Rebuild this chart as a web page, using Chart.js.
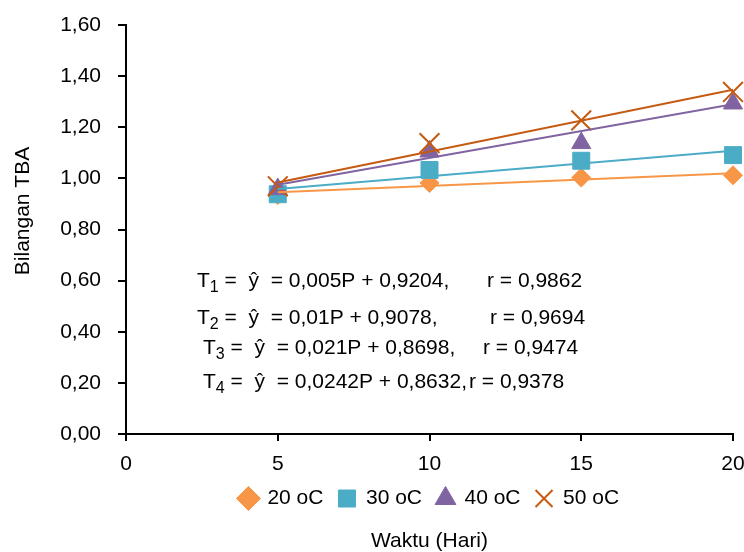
<!DOCTYPE html>
<html>
<head>
<meta charset="utf-8">
<script src="https://cdn.jsdelivr.net/npm/chart.js@4.4.1/dist/chart.umd.min.js"></script>
<style>
    html, body { margin: 0; padding: 0; background: #fff; }
    canvas { display: block; }
</style>
</head>
<body>
<canvas id="tbaChart" width="744" height="552"></canvas>
<script>
// data
const days = [5, 10, 15, 20];
const tba20 = [0.935, 0.982, 1.003, 1.012];
const tba30 = [0.938, 1.033, 1.069, 1.091];
const tba40 = [0.958, 1.105, 1.138, 1.293];
const tba50 = [0.969, 1.138, 1.227, 1.338];

// trend lines (end points at day 5 and day 20)
const trendDays = [5, 20];
const trend20 = [0.946, 1.020];
const trend30 = [0.958, 1.108];
const trend40 = [0.975, 1.290];
const trend50 = [0.984, 1.347];

const seriesLabels = ['20 oC', '30 oC', '40 oC', '50 oC'];
const eqSub = ['1', '2', '3', '4'];
const eqBody = [' =  ŷ  = 0,005P + 0,9204,', ' =  ŷ  = 0,01P + 0,9078,', ' =  ŷ  = 0,021P + 0,8698,', ' =  ŷ  = 0,0242P + 0,8632,'];
const eqR = ['r = 0,9862', 'r = 0,9694', 'r = 0,9474', 'r = 0,9378'];

const FAMILY = "'Liberation Sans', Arial, sans-serif";
Chart.defaults.font.family = FAMILY;
Chart.defaults.font.size = 21;
Chart.defaults.color = '#000';

function toPoints(xs, ys) {
    return xs.map((x, i) => ({ x: x, y: ys[i] }));
}

// equations + y axis title
const textPlugin = {
    id: 'textPlugin',
    afterDraw(chart) {
        const ctx = chart.ctx;
        ctx.save();
        ctx.fillStyle = '#000';

        ctx.font = `21px ${FAMILY}`;
        ctx.translate(23, 211);
        ctx.rotate(-Math.PI / 2);
        ctx.textAlign = 'center';
        ctx.textBaseline = 'middle';
        ctx.fillText('Bilangan TBA', 0, 0);
        ctx.setTransform(1, 0, 0, 1, 0, 0);

        const eqX = [197, 197, 203, 203];
        const eqY = [287, 324, 354, 388];
        const rX = [487, 490, 483, 469];
        ctx.textAlign = 'left';
        ctx.textBaseline = 'alphabetic';
        for (let i = 0; i < eqBody.length; i++) {
            let x = eqX[i];
            ctx.font = `21px ${FAMILY}`;
            ctx.fillText('T', x, eqY[i]);
            x += ctx.measureText('T').width;
            ctx.font = `16px ${FAMILY}`;
            ctx.fillText(eqSub[i], x, eqY[i] + 5);
            x += ctx.measureText(eqSub[i]).width;
            ctx.font = `21px ${FAMILY}`;
            ctx.fillText(eqBody[i], x, eqY[i]);
            ctx.fillText(eqR[i], rX[i], eqY[i]);
        }
        ctx.restore();
    }
};

const ctx = document.getElementById('tbaChart').getContext('2d');
new Chart(ctx, {
    type: 'scatter',
    data: {
        datasets: [
            { label: seriesLabels[0], data: toPoints(days, tba20), pointStyle: 'rectRot', pointRadius: 9.5,
              backgroundColor: '#F79646', borderColor: '#F79646', borderWidth: 1, order: 4, clip: false },
            { label: seriesLabels[1], data: toPoints(days, tba30), pointStyle: 'rect', pointRadius: 12,
              backgroundColor: '#4BACC6', borderColor: '#4BACC6', borderWidth: 1, order: 3, clip: false },
            { label: seriesLabels[2], data: toPoints(days, tba40), pointStyle: 'triangle', pointRadius: 11,
              backgroundColor: '#8064A2', borderColor: '#8064A2', borderWidth: 1, order: 2, clip: false },
            { label: seriesLabels[3], data: toPoints(days, tba50), pointStyle: 'crossRot', pointRadius: 14,
              backgroundColor: '#C55A11', borderColor: '#C55A11', borderWidth: 2, order: 1, clip: false },
            // trend lines
            { label: 'trend20', data: toPoints(trendDays, trend20), showLine: true, pointRadius: 0, borderColor: '#F79646', borderWidth: 2, order: 0 },
            { label: 'trend30', data: toPoints(trendDays, trend30), showLine: true, pointRadius: 0, borderColor: '#4BACC6', borderWidth: 2, order: 0 },
            { label: 'trend40', data: toPoints(trendDays, trend40), showLine: true, pointRadius: 0, borderColor: '#8064A2', borderWidth: 2, order: 0 },
            { label: 'trend50', data: toPoints(trendDays, trend50), showLine: true, pointRadius: 0, borderColor: '#C55A11', borderWidth: 2, order: 0 }
        ]
    },
    options: {
        responsive: false,
        animation: false,
        devicePixelRatio: 1,
        // markers may stick out of the plot, no extra room for them
        layout: { autoPadding: false, padding: { left: 0, right: 11, top: 25, bottom: 0.5 } },
        scales: {
            x: {
                type: 'linear', min: 0, max: 20,
                // no padding so the last label only needs half its width on the right
                ticks: { stepSize: 5, padding: 0, font: { lineHeight: 2.2 } },
                grid: { drawOnChartArea: false, color: '#000', lineWidth: 2, tickLength: 7 },
                border: { color: '#000', width: 2 },
                afterFit: (scale) => {
                    scale.height = 39;
                    scale.paddingRight = 11;
                }
            },
            y: {
                min: 0, max: 1.6,
                ticks: { stepSize: 0.2, padding: 17, callback: (v) => v.toFixed(2).replace('.', ',') },
                grid: { drawOnChartArea: false, color: '#000', lineWidth: 2, tickLength: 8 },
                border: { color: '#000', width: 2 },
                afterFit: (scale) => {
                    scale.width = 126;
                    scale.paddingTop = 0;
                    scale.paddingBottom = 0;
                }
            }
        },
        plugins: {
            legend: {
                position: 'bottom',
                fullSize: false,
                labels: {
                    usePointStyle: true, boxWidth: 17, boxHeight: 17, padding: 15,
                    filter: (item) => item.datasetIndex < 4,
                    sort: (a, b) => a.datasetIndex - b.datasetIndex
                }
            },
            title: {
                display: true, text: 'Waktu (Hari)', position: 'bottom', fullSize: false,
                font: { size: 21, weight: 'normal', lineHeight: 1 }, color: '#000',
                padding: { top: 11.5, bottom: 0 }
            },
            tooltip: { enabled: false }
        }
    },
    plugins: [textPlugin]
});
</script>
</body>
</html>
